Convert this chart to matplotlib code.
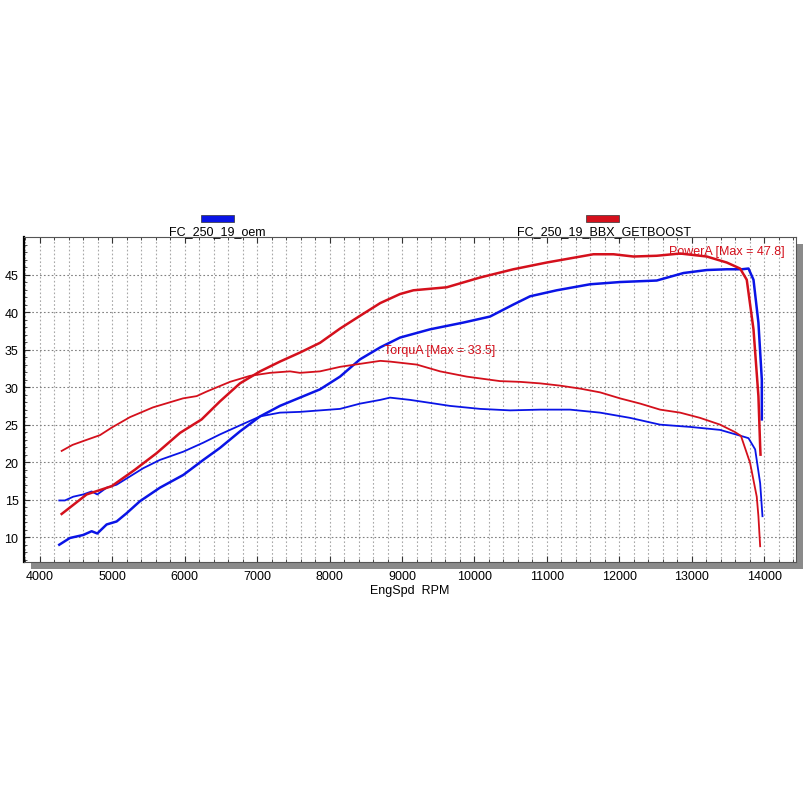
import matplotlib
matplotlib.use('Agg')
import matplotlib.pyplot as plt
from matplotlib.patches import Rectangle
from matplotlib.ticker import MultipleLocator

plt.rcParams['font.family'] = ['Liberation Sans', 'DejaVu Sans']

# OEM power (blue, lower at start)
oem_power_rpm = [4267, 4414, 4598, 4714, 4792, 4921, 5059, 5197, 5381, 5657, 5980, 6256, 6486,
                 6762, 7040, 7314, 7590, 7867, 8144, 8420, 8700, 8972, 9387, 9847, 10215, 10537,
                 10768, 11136, 11596, 12011, 12517, 12886, 13208, 13484, 13692, 13784, 13853,
                 13921, 13968, 13968]
oem_power = [9.0, 9.9, 10.3, 10.8, 10.5, 11.7, 12.1, 13.2, 14.8, 16.6, 18.3, 20.3, 21.9,
             24.1, 26.1, 27.5, 28.6, 29.7, 31.4, 33.7, 35.3, 36.6, 37.7, 38.6, 39.4, 41.0,
             42.1, 42.9, 43.7, 44.0, 44.2, 45.2, 45.6, 45.7, 45.7, 45.8, 44.3,
             38.6, 31.0, 25.7]

# OEM torque (blue)
oem_torque_rpm = [4267, 4345, 4460, 4598, 4714, 4792, 4921, 5059, 5243, 5427, 5657, 5980, 6256,
                  6486, 6762, 7040, 7314, 7590, 7867, 8144, 8420, 8700, 8834, 9110, 9387, 9660,
                  10077, 10492, 10906, 11320, 11735, 12150, 12563, 12977, 13392, 13715, 13784,
                  13876, 13945, 13977]
oem_torque = [14.9, 14.9, 15.4, 15.7, 16.1, 15.7, 16.6, 17.0, 18.1, 19.2, 20.3, 21.4, 22.6,
              23.7, 24.9, 26.1, 26.6, 26.7, 26.9, 27.1, 27.8, 28.3, 28.6, 28.3, 27.9, 27.5,
              27.1, 26.9, 27.0, 27.0, 26.6, 25.9, 25.0, 24.7, 24.3, 23.4, 23.2,
              21.7, 17.2, 12.8]

# BBX GETBOOST power (red)
bbx_power_rpm = [4300, 4645, 4990, 5312, 5611, 5934, 6233, 6486, 6762, 7040, 7314, 7590, 7867,
                 8144, 8420, 8700, 8972, 9157, 9617, 10077, 10537, 10998, 11642, 11920, 12195,
                 12517, 12840, 13208, 13484, 13668, 13760, 13853, 13921, 13945, 13950]
bbx_power = [13.1, 15.7, 16.8, 19.0, 21.2, 23.9, 25.7, 28.1, 30.5, 32.1, 33.4, 34.6, 35.9,
             37.8, 39.5, 41.2, 42.4, 42.9, 43.3, 44.6, 45.7, 46.6, 47.7, 47.7, 47.4,
             47.5, 47.8, 47.4, 46.6, 45.8, 44.3, 37.7, 28.8, 22.1, 21.0]

# BBX GETBOOST torque (red)
bbx_torque_rpm = [4300, 4450, 4594, 4829, 4990, 5243, 5561, 5975, 6164, 6300, 6624, 6900, 7177,
                  7453, 7590, 7867, 8144, 8420, 8700, 8834, 9204, 9525, 9893, 10353, 10630,
                  10906, 11180, 11460, 11735, 12010, 12290, 12563, 12840, 13116, 13392, 13600,
                  13680, 13806, 13898, 13921, 13945]
bbx_torque = [21.5, 22.3, 22.8, 23.6, 24.6, 26.0, 27.3, 28.5, 28.8, 29.4, 30.7, 31.5, 31.9,
              32.1, 31.9, 32.1, 32.7, 33.1, 33.5, 33.4, 33.0, 32.1, 31.4, 30.8, 30.7,
              30.5, 30.2, 29.8, 29.3, 28.5, 27.8, 27.0, 26.6, 25.9, 25.0, 24.0,
              23.5, 19.9, 15.4, 12.8, 8.8]

x_ticks = [4000, 5000, 6000, 7000, 8000, 9000, 10000, 11000, 12000, 13000, 14000]
y_ticks = [10, 15, 20, 25, 30, 35, 40, 45]

BLUE = '#0a14e6'
RED = '#d4101c'

W = H = 812
fig = plt.figure(figsize=(W / 100, H / 100), dpi=100)

ax_l, ax_r, ax_t, ax_b = 24, 796, 238, 563
pos = [ax_l / W, 1 - ax_b / H, (ax_r - ax_l) / W, (ax_b - ax_t) / H]

# gray drop shadow behind the plot box
fig.patches.append(Rectangle((pos[0] + 7 / W, pos[1] - 7 / H), pos[2], pos[3],
                             transform=fig.transFigure, facecolor='#8a8a8a',
                             edgecolor='none', zorder=0))

ax = fig.add_axes(pos, zorder=1)
ax.set_facecolor('white')

ax.plot(oem_torque_rpm, oem_torque, color=BLUE, lw=1.3, zorder=3)
ax.plot(oem_power_rpm, oem_power, color=BLUE, lw=1.8, zorder=3)
ax.plot(bbx_torque_rpm, bbx_torque, color=RED, lw=1.3, zorder=4)
ax.plot(bbx_power_rpm, bbx_power, color=RED, lw=1.8, zorder=4)

ax.set_xlim(3780, 14440)
ax.set_ylim(6.7, 50)

ax.set_xticks(x_ticks)
ax.set_yticks(y_ticks)
ax.xaxis.set_minor_locator(MultipleLocator(200))
ax.yaxis.set_minor_locator(MultipleLocator(1))
ax.tick_params(axis='both', which='both', direction='in', labelsize=9,
               top=True, right=False, colors='#333333')
ax.tick_params(axis='both', which='major', length=4)
ax.tick_params(axis='both', which='minor', length=2)
ax.tick_params(axis='x', pad=6)
ax.tick_params(axis='y', pad=4)
for lab in ax.get_xticklabels() + ax.get_yticklabels():
    lab.set_color('black')

ax.grid(True, axis='x', which='both', color='#a8a8a8', lw=0.8, ls=(0, (1.5, 2)), zorder=1)
ax.grid(True, axis='y', which='major', color='#808080', lw=0.8, ls=(0, (1.5, 2)), zorder=1)

for side in ['top', 'right', 'bottom']:
    ax.spines[side].set_linewidth(0.8)
    ax.spines[side].set_color('#555555')
ax.spines['left'].set_linewidth(1.6)
ax.spines['left'].set_color('black')

ax.set_xlabel('EngSpd  RPM', fontsize=9, labelpad=1)

ax.text(0.985, 0.975, 'PowerA [Max = 47.8]', transform=ax.transAxes, color=RED,
        fontsize=9, ha='right', va='top')
ax.text(8750, 34.2, 'TorquA [Max = 33.5]', color=RED, fontsize=9, ha='left', va='bottom')

# legend swatches above the plot
for x0, col, label, lx in [(201, BLUE, 'FC_250_19_oem', 217),
                           (586, RED, 'FC_250_19_BBX_GETBOOST', 604)]:
    fig.patches.append(Rectangle((x0 / W, 1 - 223 / H), 33 / W, 7 / H,
                                 transform=fig.transFigure, facecolor=col,
                                 edgecolor='#333333', lw=0.5))
    fig.text(lx / W, 1 - 232 / H, label, fontsize=9, ha='center', va='center')

fig.savefig('out.png', dpi=100, facecolor='white')
